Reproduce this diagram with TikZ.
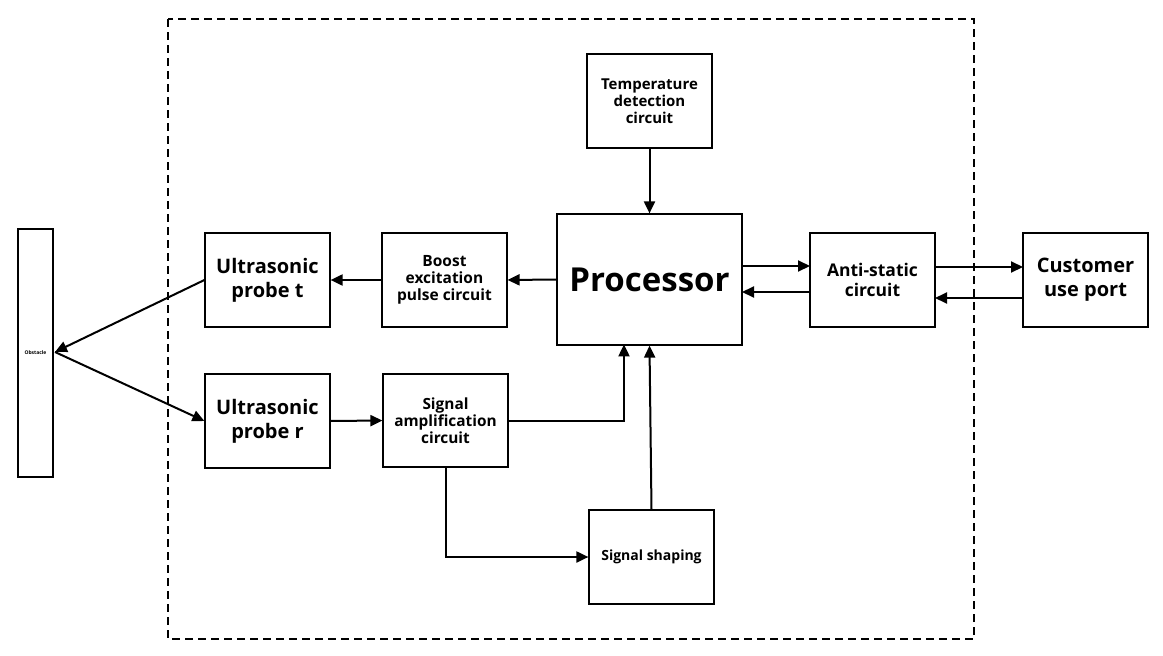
\documentclass[tikz,border=0pt]{standalone}
\usepackage{fontspec}
\setmainfont{Open Sans}
\usetikzlibrary{arrows.meta}
\begin{document}
\begin{tikzpicture}[x=1pt,y=-1pt,
  blk/.style={draw,line width=1.2pt,inner sep=0pt,align=center,font=\bfseries},
  arr/.style={line width=2pt,-{Triangle[length=12pt,width=11pt]}},
  ln/.style={line width=2pt}]
\useasboundingbox (0,0) rectangle (1163,656);
\draw[line width=1.2pt,dash pattern=on 8pt off 5pt] (168,19) rectangle (974,639);
\node[blk,minimum width=35pt,minimum height=248pt] (obs) at (35.5,353) {\fontsize{5}{6}\selectfont Obstacle};
\node[blk,minimum width=125pt,minimum height=94pt,font=\bfseries\fontsize{20}{24}\selectfont] (pt) at (267.5,280) {Ultrasonic\\probe t};
\node[blk,minimum width=125pt,minimum height=94pt,font=\bfseries\fontsize{15.5}{17}\selectfont] (boost) at (444.5,280) {Boost\\excitation\\pulse circuit};
\node[blk,minimum width=185pt,minimum height=131pt,font=\bfseries\fontsize{33}{38}\selectfont] (proc) at (649.5,279.5) {Processor};
\node[blk,minimum width=125pt,minimum height=94pt,font=\bfseries\fontsize{15}{17}\selectfont] (temp) at (649.5,101) {Temperature\\detection\\circuit};
\node[blk,minimum width=125pt,minimum height=94pt,font=\bfseries\fontsize{17.5}{20}\selectfont] (anti) at (872.5,280) {Anti-static\\circuit};
\node[blk,minimum width=125pt,minimum height=94pt,font=\bfseries\fontsize{20}{24}\selectfont] (cust) at (1085.5,280) {Customer\\use port};
\node[blk,minimum width=125pt,minimum height=94pt,font=\bfseries\fontsize{20}{24}\selectfont] (pr) at (267.5,421) {Ultrasonic\\probe r};
\node[blk,minimum width=125pt,minimum height=93pt,font=\bfseries\fontsize{15.4}{17}\selectfont] (amp) at (445.5,420.5) {Signal\\amplification\\circuit};
\node[blk,minimum width=125pt,minimum height=94pt,font=\bfseries\fontsize{14}{17}\selectfont] (shape) at (651.5,557) {Signal shaping};
\coordinate (obsp) at (55,352);
\draw[arr] (temp.south) -- (proc.north);
\draw[arr] (proc.west) -- (boost.east);
\draw[arr] (boost.west) -- (pt.east);
\draw[arr] (pt.west) -- (obsp);
\draw[arr] (obsp) -- (pr.west);
\draw[arr] (pr.east) -- (amp.west);
\draw[arr] (amp.east) -| (624,345) -- (624,344.4);
\draw[arr] (446,467) |- (shape.west);
\draw[arr] (shape.north) -- (proc.south);
\draw[arr] (742,266) -- (810,266);
\draw[arr] (810,292) -- (742,292);
\draw[arr] (935,267) -- (1023,267);
\draw[arr] (1023,298) -- (935,298);
\end{tikzpicture}
\end{document}
